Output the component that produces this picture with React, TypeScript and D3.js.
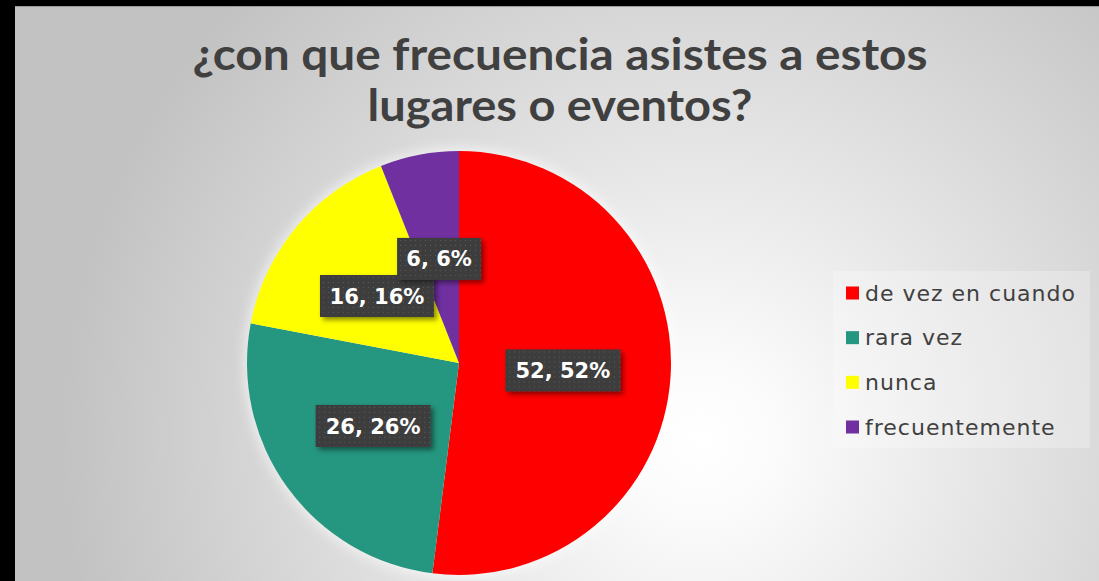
import React, { useRef, useEffect } from 'react';
import * as d3 from 'd3';

const categories = ['de vez en cuando', 'rara vez', 'nunca', 'frecuentemente'];
const values = [52, 26, 16, 6];
const percents = ['52%', '26%', '16%', '6%'];
const colors = ['#FF0000', '#25967F', '#FFFF00', '#7030A0'];
const titleLines = ['¿con que frecuencia asistes a estos', 'lugares o eventos?'];

// label box centres (relative to pie centre, in units of radius)
const labelOffsets: [number, number][] = [
  [0.49, 0.035],
  [-0.405, 0.297],
  [-0.387, -0.316],
  [-0.094, -0.491],
];

const W = 1099;
const H = 581;

const App: React.FC = () => {
  const svgRef = useRef<SVGSVGElement>(null);

  useEffect(() => {
    if (!svgRef.current) return;
    const svg = d3.select(svgRef.current);
    svg.selectAll('*').remove();

    const defs = svg.append('defs');

    // background gradient
    const bg = defs.append('radialGradient')
      .attr('id', 'bg')
      .attr('gradientUnits', 'userSpaceOnUse')
      .attr('cx', 700).attr('cy', 440).attr('r', 640);
    bg.append('stop').attr('offset', '0').attr('stop-color', '#ffffff');
    bg.append('stop').attr('offset', '0.12').attr('stop-color', '#fbfbfb');
    bg.append('stop').attr('offset', '1').attr('stop-color', '#c2c2c2');

    // dotted pattern for label boxes
    const pat = defs.append('pattern')
      .attr('id', 'dots')
      .attr('width', 5).attr('height', 5)
      .attr('patternUnits', 'userSpaceOnUse');
    pat.append('rect').attr('width', 5).attr('height', 5).attr('fill', '#3e3e3e');
    pat.append('rect').attr('x', 1).attr('y', 1).attr('width', 1).attr('height', 1).attr('fill', '#5a5a5a');

    const shadow = defs.append('filter').attr('id', 'shadow')
      .attr('x', '-20%').attr('y', '-30%').attr('width', '150%').attr('height', '180%');
    shadow.append('feDropShadow')
      .attr('dx', 3).attr('dy', 3).attr('stdDeviation', 2.5)
      .attr('flood-color', '#000').attr('flood-opacity', 0.45);

    const glow = defs.append('filter').attr('id', 'glow')
      .attr('x', '-20%').attr('y', '-20%').attr('width', '140%').attr('height', '140%');
    glow.append('feGaussianBlur').attr('stdDeviation', 6);

    // frame
    svg.append('rect').attr('width', W).attr('height', H).attr('fill', '#000');
    svg.append('rect').attr('x', 15).attr('y', 6).attr('width', W - 15).attr('height', H - 6)
      .attr('fill', 'url(#bg)');
    svg.append('line').attr('x1', 15).attr('x2', W).attr('y1', 6.5).attr('y2', 6.5)
      .attr('stroke', '#9a9a9a').attr('stroke-width', 1);

    // title
    const title = svg.append('text')
      .attr('text-anchor', 'middle')
      .attr('fill', '#404040')
      .attr('font-family', 'Lato, "DejaVu Sans", sans-serif')
      .attr('font-weight', 700)
      .attr('font-size', 44);
    title.append('tspan').attr('x', 560).attr('y', 70)
      .attr('textLength', 735).attr('lengthAdjust', 'spacingAndGlyphs').text(titleLines[0]);
    title.append('tspan').attr('x', 560).attr('y', 121)
      .attr('textLength', 385).attr('lengthAdjust', 'spacingAndGlyphs').text(titleLines[1]);

    // pie
    const cx = 459;
    const cy = 363;
    const r = 212;
    const pie = d3.pie<number>().sort(null).value(d => d);
    const arc = d3.arc<d3.PieArcDatum<number>>().innerRadius(0).outerRadius(r);
    const g = svg.append('g').attr('transform', `translate(${cx},${cy})`);

    g.append('circle').attr('r', r + 3).attr('fill', '#ffffff').attr('opacity', 0.6)
      .attr('filter', 'url(#glow)');

    g.selectAll('path.slice')
      .data(pie(values))
      .join('path')
      .attr('class', 'slice')
      .attr('d', arc)
      .attr('fill', (_, i) => colors[i]);

    // data labels
    const boxW = [115, 115, 114, 84];
    const boxH = 42;
    values.forEach((v, i) => {
      const lx = labelOffsets[i][0] * r;
      const ly = labelOffsets[i][1] * r;
      const lg = g.append('g').attr('transform', `translate(${lx},${ly})`);
      lg.append('rect')
        .attr('x', -boxW[i] / 2).attr('y', -boxH / 2)
        .attr('width', boxW[i]).attr('height', boxH)
        .attr('fill', 'url(#dots)')
        .attr('filter', 'url(#shadow)');
      lg.append('text')
        .attr('text-anchor', 'middle')
        .attr('dy', '0.36em')
        .attr('fill', '#ffffff')
        .attr('font-family', '"DejaVu Sans", sans-serif')
        .attr('font-weight', 700)
        .attr('font-size', 21)
        .text(`${v}, ${percents[i]}`);
    });

    // legend
    svg.append('rect')
      .attr('x', 833).attr('y', 271).attr('width', 257).attr('height', 177)
      .attr('fill', '#ffffff').attr('opacity', 0.25);
    const legend = svg.append('g');
    const ly = d3.scalePoint<string>().domain(categories).range([293, 427]);
    categories.forEach((c, i) => {
      const y = ly(c)!;
      legend.append('rect')
        .attr('x', 846).attr('y', y - 6.5).attr('width', 13).attr('height', 13)
        .attr('fill', colors[i]);
      legend.append('text')
        .attr('x', 865).attr('y', y)
        .attr('dy', '0.35em')
        .attr('fill', '#404040')
        .attr('font-family', '"DejaVu Sans", sans-serif')
        .attr('font-size', 22)
        .attr('letter-spacing', 1)
        .text(c);
    });
  }, []);

  return (
    <div style={{ position: 'absolute', left: 0, top: 0 }}>
      <svg ref={svgRef} width={W} height={H} style={{ display: 'block' }} />
    </div>
  );
};

export default App;
